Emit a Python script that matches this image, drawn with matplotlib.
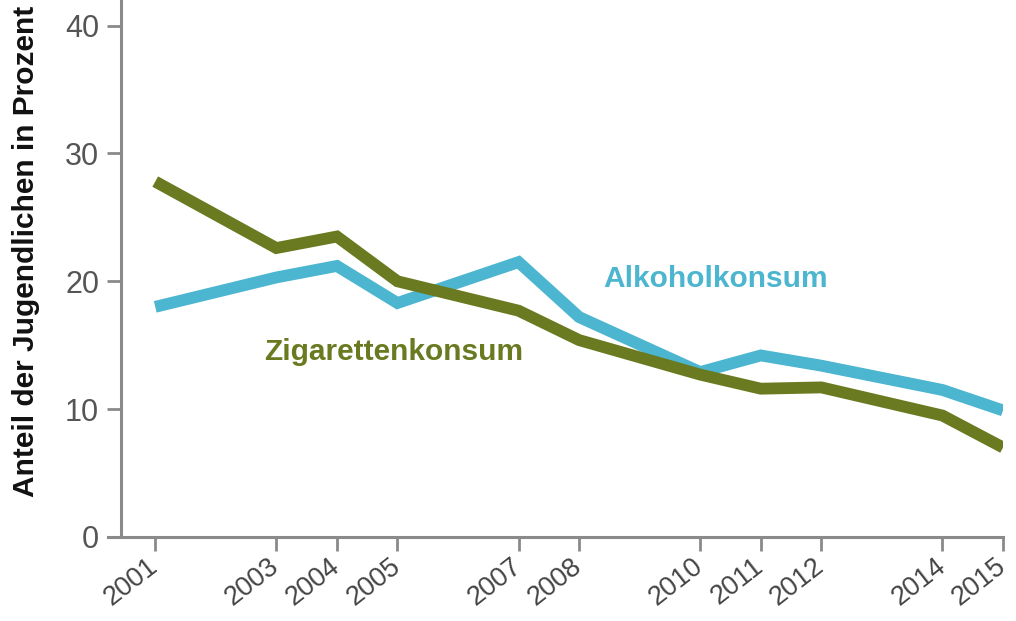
import matplotlib
matplotlib.use("Agg")
import matplotlib.pyplot as plt

years = [2001, 2003, 2004, 2005, 2007, 2008, 2010, 2011, 2012, 2014, 2015]
alkohol = [18.0, 20.3, 21.2, 18.3, 21.5, 17.2, 12.9, 14.2, 13.4, 11.5, 9.9]
zigaretten = [27.8, 22.6, 23.5, 20.0, 17.7, 15.4, 12.7, 11.6, 11.7, 9.5, 7.0]
yticks = [0, 10, 20, 30, 40]

blue = "#4cb5cf"
olive = "#697a20"
gray = "#8a8a8a"

plt.rcParams['font.family'] = ['Liberation Sans', 'DejaVu Sans']

fig = plt.figure(figsize=(10.16, 6.21), dpi=100)
ax = fig.add_axes([108/1016, 1-537/621, (1003-108)/1016, 537/621])

ax.plot(years, alkohol, color=blue, lw=8.5, solid_joinstyle='miter', solid_capstyle='butt', zorder=2)
ax.plot(years, zigaretten, color=olive, lw=8.5, solid_joinstyle='miter', solid_capstyle='butt', zorder=3)

ax.set_xlim(2000.22, 2015)
ax.set_ylim(0, 42)

for s in ['top', 'right']:
    ax.spines[s].set_visible(False)
ax.spines['left'].set_position(('data', 2000.44))
for s in ['left', 'bottom']:
    ax.spines[s].set_color(gray)
    ax.spines[s].set_linewidth(2.2)

ax.set_yticks(yticks)
ax.set_yticklabels([str(v) for v in yticks], fontsize=22, color="#555555")
ax.set_xticks(years)
ax.set_xticklabels([str(y) for y in years], fontsize=19.5, color="#444444",
                   rotation=38, ha='right', va='center', rotation_mode='anchor')
ax.tick_params(axis='y', length=10, width=2, color=gray, pad=6)
ax.tick_params(axis='x', length=10, width=2, color=gray, pad=9)

ax.set_ylabel("Anteil der Jugendlichen in Prozent", fontsize=21.5, fontweight='bold',
              color="#111111")
ax.yaxis.set_label_coords(-0.076, 0.531)

ax.text(2008.4, 20.2, "Alkoholkonsum", color=blue, fontsize=21.5, fontweight='bold',
        ha='left', va='center')
ax.text(2002.8, 14.5, "Zigarettenkonsum", color=olive, fontsize=21.5, fontweight='bold',
        ha='left', va='center')

fig.savefig("out.png", dpi=100)
